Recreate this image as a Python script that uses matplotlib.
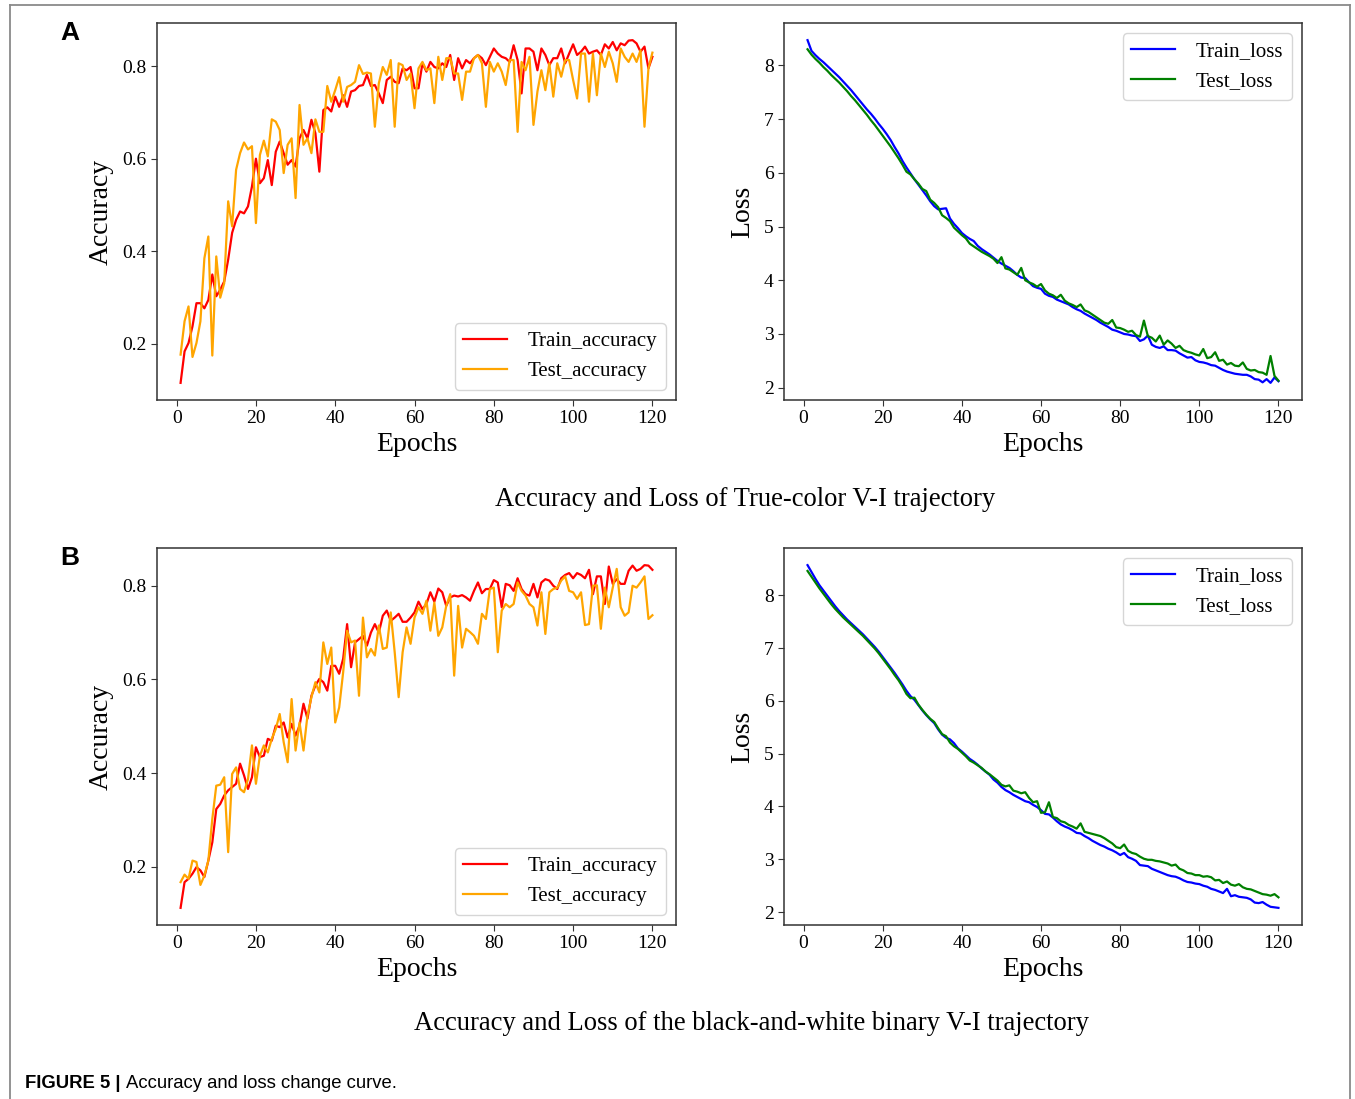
import matplotlib
matplotlib.use('Agg')
import matplotlib.pyplot as plt
from matplotlib.lines import Line2D

epochs = list(range(1, 121))

# --- Panel A: true-color V-I trajectory ---
train_acc_a = [0.116, 0.184, 0.202, 0.238, 0.288, 0.288, 0.277, 0.295, 0.350, 0.303,
               0.317, 0.335, 0.382, 0.440, 0.468, 0.486, 0.482, 0.497, 0.540, 0.600,
               0.547, 0.558, 0.597, 0.543, 0.615, 0.637, 0.612, 0.587, 0.597, 0.583,
               0.644, 0.662, 0.644, 0.684, 0.655, 0.572, 0.705, 0.711, 0.702, 0.734,
               0.712, 0.737, 0.712, 0.745, 0.748, 0.757, 0.759, 0.781, 0.757, 0.759,
               0.741, 0.720, 0.770, 0.777, 0.766, 0.763, 0.795, 0.791, 0.798, 0.752,
               0.752, 0.806, 0.788, 0.809, 0.798, 0.795, 0.806, 0.798, 0.824, 0.770,
               0.817, 0.795, 0.813, 0.806, 0.817, 0.824, 0.817, 0.802, 0.820, 0.838,
               0.827, 0.820, 0.817, 0.809, 0.845, 0.813, 0.741, 0.838, 0.838, 0.831,
               0.791, 0.838, 0.824, 0.802, 0.817, 0.817, 0.838, 0.806, 0.827, 0.847,
               0.824, 0.831, 0.842, 0.827, 0.831, 0.834, 0.824, 0.847, 0.838, 0.852,
               0.834, 0.849, 0.845, 0.855, 0.856, 0.849, 0.831, 0.842, 0.795, 0.820]
test_acc_a = [0.177, 0.249, 0.281, 0.172, 0.202, 0.249, 0.385, 0.432, 0.175, 0.389,
              0.300, 0.331, 0.508, 0.454, 0.576, 0.612, 0.635, 0.620, 0.627, 0.461,
              0.608, 0.639, 0.605, 0.685, 0.680, 0.662, 0.569, 0.630, 0.644, 0.515,
              0.716, 0.630, 0.644, 0.612, 0.685, 0.658, 0.658, 0.757, 0.723, 0.748,
              0.776, 0.723, 0.755, 0.759, 0.766, 0.802, 0.783, 0.786, 0.784, 0.669,
              0.763, 0.798, 0.781, 0.813, 0.669, 0.806, 0.802, 0.770, 0.784, 0.709,
              0.795, 0.809, 0.791, 0.795, 0.720, 0.820, 0.770, 0.817, 0.817, 0.784,
              0.784, 0.727, 0.788, 0.788, 0.817, 0.824, 0.806, 0.712, 0.809, 0.788,
              0.806, 0.788, 0.759, 0.813, 0.813, 0.658, 0.809, 0.791, 0.820, 0.673,
              0.745, 0.791, 0.748, 0.806, 0.734, 0.806, 0.777, 0.813, 0.813, 0.770,
              0.730, 0.827, 0.827, 0.723, 0.827, 0.737, 0.827, 0.798, 0.831, 0.806,
              0.766, 0.838, 0.820, 0.809, 0.827, 0.809, 0.834, 0.669, 0.795, 0.829]
train_loss_a = [8.47, 8.27, 8.19, 8.12, 8.06, 7.99, 7.92, 7.85, 7.78, 7.70,
                7.62, 7.54, 7.45, 7.36, 7.27, 7.18, 7.10, 7.01, 6.91, 6.82,
                6.72, 6.61, 6.48, 6.36, 6.22, 6.10, 5.99, 5.88, 5.78, 5.68,
                5.58, 5.47, 5.38, 5.32, 5.33, 5.34, 5.15, 5.05, 4.97, 4.88,
                4.82, 4.77, 4.73, 4.64, 4.58, 4.53, 4.48, 4.42, 4.36, 4.31,
                4.27, 4.23, 4.17, 4.10, 4.05, 4.04, 3.96, 3.89, 3.86, 3.84,
                3.75, 3.71, 3.69, 3.64, 3.61, 3.58, 3.55, 3.50, 3.46, 3.43,
                3.38, 3.34, 3.30, 3.26, 3.21, 3.17, 3.13, 3.08, 3.06, 3.03,
                3.00, 2.99, 2.97, 2.96, 2.87, 2.90, 2.97, 2.80, 2.76, 2.74,
                2.77, 2.70, 2.70, 2.69, 2.64, 2.60, 2.56, 2.57, 2.51, 2.48,
                2.47, 2.45, 2.42, 2.41, 2.37, 2.33, 2.30, 2.28, 2.26, 2.25,
                2.24, 2.24, 2.21, 2.16, 2.15, 2.10, 2.16, 2.09, 2.19, 2.12]
test_loss_a = [8.30, 8.20, 8.12, 8.05, 7.97, 7.90, 7.82, 7.75, 7.68, 7.60,
               7.52, 7.43, 7.35, 7.26, 7.17, 7.08, 6.98, 6.89, 6.79, 6.69,
               6.59, 6.49, 6.38, 6.27, 6.15, 6.02, 5.97, 5.88, 5.80, 5.70,
               5.66, 5.50, 5.44, 5.36, 5.21, 5.16, 5.10, 4.98, 4.91, 4.84,
               4.78, 4.68, 4.63, 4.58, 4.53, 4.49, 4.45, 4.40, 4.32, 4.43,
               4.22, 4.20, 4.15, 4.10, 4.23, 4.00, 3.96, 3.93, 3.88, 3.93,
               3.81, 3.75, 3.72, 3.67, 3.73, 3.62, 3.57, 3.54, 3.50, 3.55,
               3.44, 3.41, 3.36, 3.31, 3.26, 3.21, 3.19, 3.26, 3.12, 3.11,
               3.08, 3.04, 3.06, 2.98, 2.95, 3.25, 2.96, 2.93, 2.86, 2.97,
               2.80, 2.88, 2.82, 2.74, 2.78, 2.70, 2.67, 2.65, 2.62, 2.60,
               2.72, 2.55, 2.57, 2.66, 2.50, 2.52, 2.43, 2.46, 2.41, 2.40,
               2.47, 2.35, 2.32, 2.33, 2.29, 2.28, 2.24, 2.59, 2.22, 2.13]

# --- Panel B: black-and-white binary V-I trajectory ---
train_acc_b = [0.112, 0.167, 0.174, 0.185, 0.199, 0.192, 0.178, 0.213, 0.252, 0.323,
               0.334, 0.352, 0.363, 0.370, 0.377, 0.420, 0.395, 0.366, 0.391, 0.455,
               0.434, 0.437, 0.473, 0.469, 0.501, 0.498, 0.508, 0.476, 0.505, 0.480,
               0.501, 0.548, 0.516, 0.565, 0.587, 0.601, 0.594, 0.576, 0.629, 0.629,
               0.612, 0.644, 0.718, 0.626, 0.679, 0.686, 0.693, 0.672, 0.700, 0.718,
               0.700, 0.736, 0.747, 0.725, 0.732, 0.740, 0.723, 0.723, 0.732, 0.743,
               0.766, 0.750, 0.761, 0.786, 0.766, 0.794, 0.786, 0.757, 0.775, 0.779,
               0.777, 0.780, 0.775, 0.768, 0.789, 0.807, 0.784, 0.793, 0.793, 0.812,
               0.807, 0.754, 0.804, 0.801, 0.789, 0.816, 0.793, 0.782, 0.779, 0.804,
               0.775, 0.807, 0.814, 0.811, 0.800, 0.793, 0.816, 0.823, 0.827, 0.816,
               0.827, 0.823, 0.816, 0.834, 0.782, 0.820, 0.820, 0.761, 0.841, 0.804,
               0.814, 0.804, 0.804, 0.832, 0.843, 0.832, 0.836, 0.844, 0.843, 0.834]
test_acc_b = [0.167, 0.183, 0.174, 0.213, 0.210, 0.161, 0.181, 0.213, 0.302, 0.373,
              0.375, 0.391, 0.231, 0.398, 0.412, 0.366, 0.359, 0.387, 0.459, 0.377,
              0.437, 0.459, 0.444, 0.473, 0.494, 0.526, 0.466, 0.423, 0.558, 0.448,
              0.508, 0.448, 0.523, 0.562, 0.594, 0.572, 0.679, 0.633, 0.668, 0.508,
              0.540, 0.615, 0.704, 0.679, 0.683, 0.565, 0.732, 0.647, 0.665, 0.651,
              0.715, 0.665, 0.668, 0.743, 0.658, 0.562, 0.658, 0.711, 0.676, 0.732,
              0.754, 0.740, 0.768, 0.704, 0.764, 0.693, 0.711, 0.757, 0.782, 0.608,
              0.757, 0.668, 0.708, 0.701, 0.693, 0.676, 0.740, 0.729, 0.793, 0.796,
              0.658, 0.747, 0.761, 0.754, 0.761, 0.807, 0.789, 0.779, 0.761, 0.754,
              0.715, 0.786, 0.697, 0.786, 0.793, 0.796, 0.811, 0.820, 0.789, 0.786,
              0.772, 0.786, 0.716, 0.718, 0.800, 0.801, 0.708, 0.796, 0.754, 0.796,
              0.836, 0.754, 0.736, 0.743, 0.800, 0.796, 0.807, 0.820, 0.729, 0.737]
train_loss_b = [8.57, 8.44, 8.31, 8.19, 8.09, 7.99, 7.89, 7.79, 7.70, 7.62,
                7.54, 7.47, 7.40, 7.33, 7.26, 7.18, 7.10, 7.02, 6.93, 6.83,
                6.73, 6.63, 6.53, 6.42, 6.31, 6.19, 6.09, 6.02, 5.92, 5.82,
                5.73, 5.65, 5.58, 5.46, 5.36, 5.30, 5.27, 5.20, 5.10, 5.04,
                4.97, 4.90, 4.85, 4.79, 4.72, 4.66, 4.60, 4.51, 4.45, 4.37,
                4.31, 4.27, 4.22, 4.18, 4.14, 4.10, 4.08, 4.03, 3.99, 3.93,
                3.86, 3.85, 3.79, 3.72, 3.66, 3.62, 3.59, 3.55, 3.50, 3.49,
                3.44, 3.40, 3.35, 3.31, 3.27, 3.24, 3.20, 3.17, 3.13, 3.08,
                3.12, 3.04, 3.01, 2.97, 2.89, 2.88, 2.87, 2.82, 2.79, 2.76,
                2.73, 2.70, 2.68, 2.67, 2.64, 2.60, 2.57, 2.56, 2.54, 2.53,
                2.50, 2.48, 2.44, 2.42, 2.39, 2.36, 2.44, 2.30, 2.32, 2.29,
                2.28, 2.27, 2.24, 2.18, 2.17, 2.19, 2.14, 2.10, 2.09, 2.08]
test_loss_b = [8.46, 8.35, 8.24, 8.13, 8.03, 7.93, 7.83, 7.74, 7.66, 7.58,
               7.51, 7.44, 7.37, 7.30, 7.23, 7.15, 7.07, 6.99, 6.90, 6.80,
               6.70, 6.60, 6.49, 6.39, 6.27, 6.13, 6.05, 6.06, 5.93, 5.83,
               5.74, 5.66, 5.60, 5.48, 5.37, 5.33, 5.21, 5.14, 5.09, 5.02,
               4.95, 4.87, 4.83, 4.78, 4.73, 4.66, 4.61, 4.55, 4.49, 4.41,
               4.38, 4.40, 4.30, 4.28, 4.25, 4.27, 4.16, 4.08, 4.10, 3.88,
               3.89, 4.08, 3.80, 3.78, 3.72, 3.70, 3.65, 3.62, 3.58, 3.68,
               3.52, 3.50, 3.48, 3.46, 3.44, 3.40, 3.35, 3.30, 3.23, 3.21,
               3.28, 3.16, 3.12, 3.10, 3.05, 3.01, 2.99, 2.99, 2.97, 2.96,
               2.94, 2.92, 2.88, 2.90, 2.82, 2.79, 2.74, 2.73, 2.70, 2.70,
               2.67, 2.68, 2.66, 2.60, 2.61, 2.55, 2.58, 2.52, 2.50, 2.53,
               2.47, 2.44, 2.43, 2.40, 2.37, 2.34, 2.33, 2.31, 2.34, 2.28]

acc_ticks = [0.2, 0.4, 0.6, 0.8]
loss_ticks = [2, 3, 4, 5, 6, 7, 8]
epoch_ticks = [0, 20, 40, 60, 80, 100, 120]

plt.rcParams['font.family'] = ['Liberation Serif', 'DejaVu Serif']

W, H = 1355, 1099
fig = plt.figure(figsize=(W / 100, H / 100), dpi=100)


def px_axes(left, top, right, bottom):
    # axes placed from pixel box of the reference
    return fig.add_axes([left / W, 1 - bottom / H, (right - left) / W, (bottom - top) / H])


def style_axes(ax, ylabel, yticks):
    ax.set_xticks(epoch_ticks)
    ax.set_yticks(yticks)
    ax.tick_params(labelsize=14, length=4, color='#333333')
    for s in ax.spines.values():
        s.set_color('#333333')
        s.set_linewidth(1.1)
    ax.set_xlabel('Epochs', fontsize=20, labelpad=3)
    ax.set_ylabel(ylabel, fontsize=20, labelpad=6)


def plot_acc(ax, train, test):
    ax.plot(epochs, train, color='red', lw=1.6, label='Train_accuracy')
    ax.plot(epochs, test, color='orange', lw=1.6, label='Test_accuracy')
    style_axes(ax, 'Accuracy', acc_ticks)
    ax.legend(loc='lower right', fontsize=15, handlelength=2.1, handletextpad=1.0)


def plot_loss(ax, train, test):
    ax.plot(epochs, train, color='blue', lw=1.6, label='Train_loss')
    ax.plot(epochs, test, color='green', lw=1.6, label='Test_loss')
    style_axes(ax, 'Loss', loss_ticks)
    ax.legend(loc='upper right', fontsize=15, handlelength=2.1, handletextpad=1.0)


plot_acc(px_axes(157, 23, 676, 400), train_acc_a, test_acc_a)
plot_loss(px_axes(784, 23, 1302, 400), train_loss_a, test_loss_a)
plot_acc(px_axes(157, 548, 676, 925), train_acc_b, test_acc_b)
plot_loss(px_axes(784, 548, 1302, 925), train_loss_b, test_loss_b)

fig.text(745 / W, 1 - 499 / H, 'Accuracy and Loss of True-color V-I trajectory',
         ha='center', va='center', fontsize=19.2)
fig.text(751 / W, 1 - 1023 / H, 'Accuracy and Loss of the black-and-white binary V-I trajectory',
         ha='center', va='center', fontsize=19.2)

# panel letters
fig.text(70 / W, 1 - 33 / H, 'A', ha='center', va='center', fontsize=19,
         fontweight='bold', family='Liberation Sans')
fig.text(70 / W, 1 - 558 / H, 'B', ha='center', va='center', fontsize=19,
         fontweight='bold', family='Liberation Sans')

# frame lines of the figure panel
border = '#8a8a8a'
fig.add_artist(Line2D([10 / W, 1350 / W], [1 - 5 / H, 1 - 5 / H], color=border, lw=1.3))
fig.add_artist(Line2D([10 / W, 10 / W], [0, 1 - 5 / H], color=border, lw=1.3))
fig.add_artist(Line2D([1350 / W, 1350 / W], [0, 1 - 5 / H], color=border, lw=1.3))

# caption: bold part then regular part
renderer = fig.canvas.get_renderer()
cap1 = fig.text(25 / W, 1 - 1088 / H, 'FIGURE 5 | ', fontsize=13.3, fontweight='bold',
                family='Liberation Sans', va='baseline')
bb = cap1.get_window_extent(renderer=renderer)
fig.text(bb.x1 / W, 1 - 1088 / H, 'Accuracy and loss change curve.', fontsize=13.3,
         family='Liberation Sans', va='baseline')

fig.savefig('out.png', dpi=100)
